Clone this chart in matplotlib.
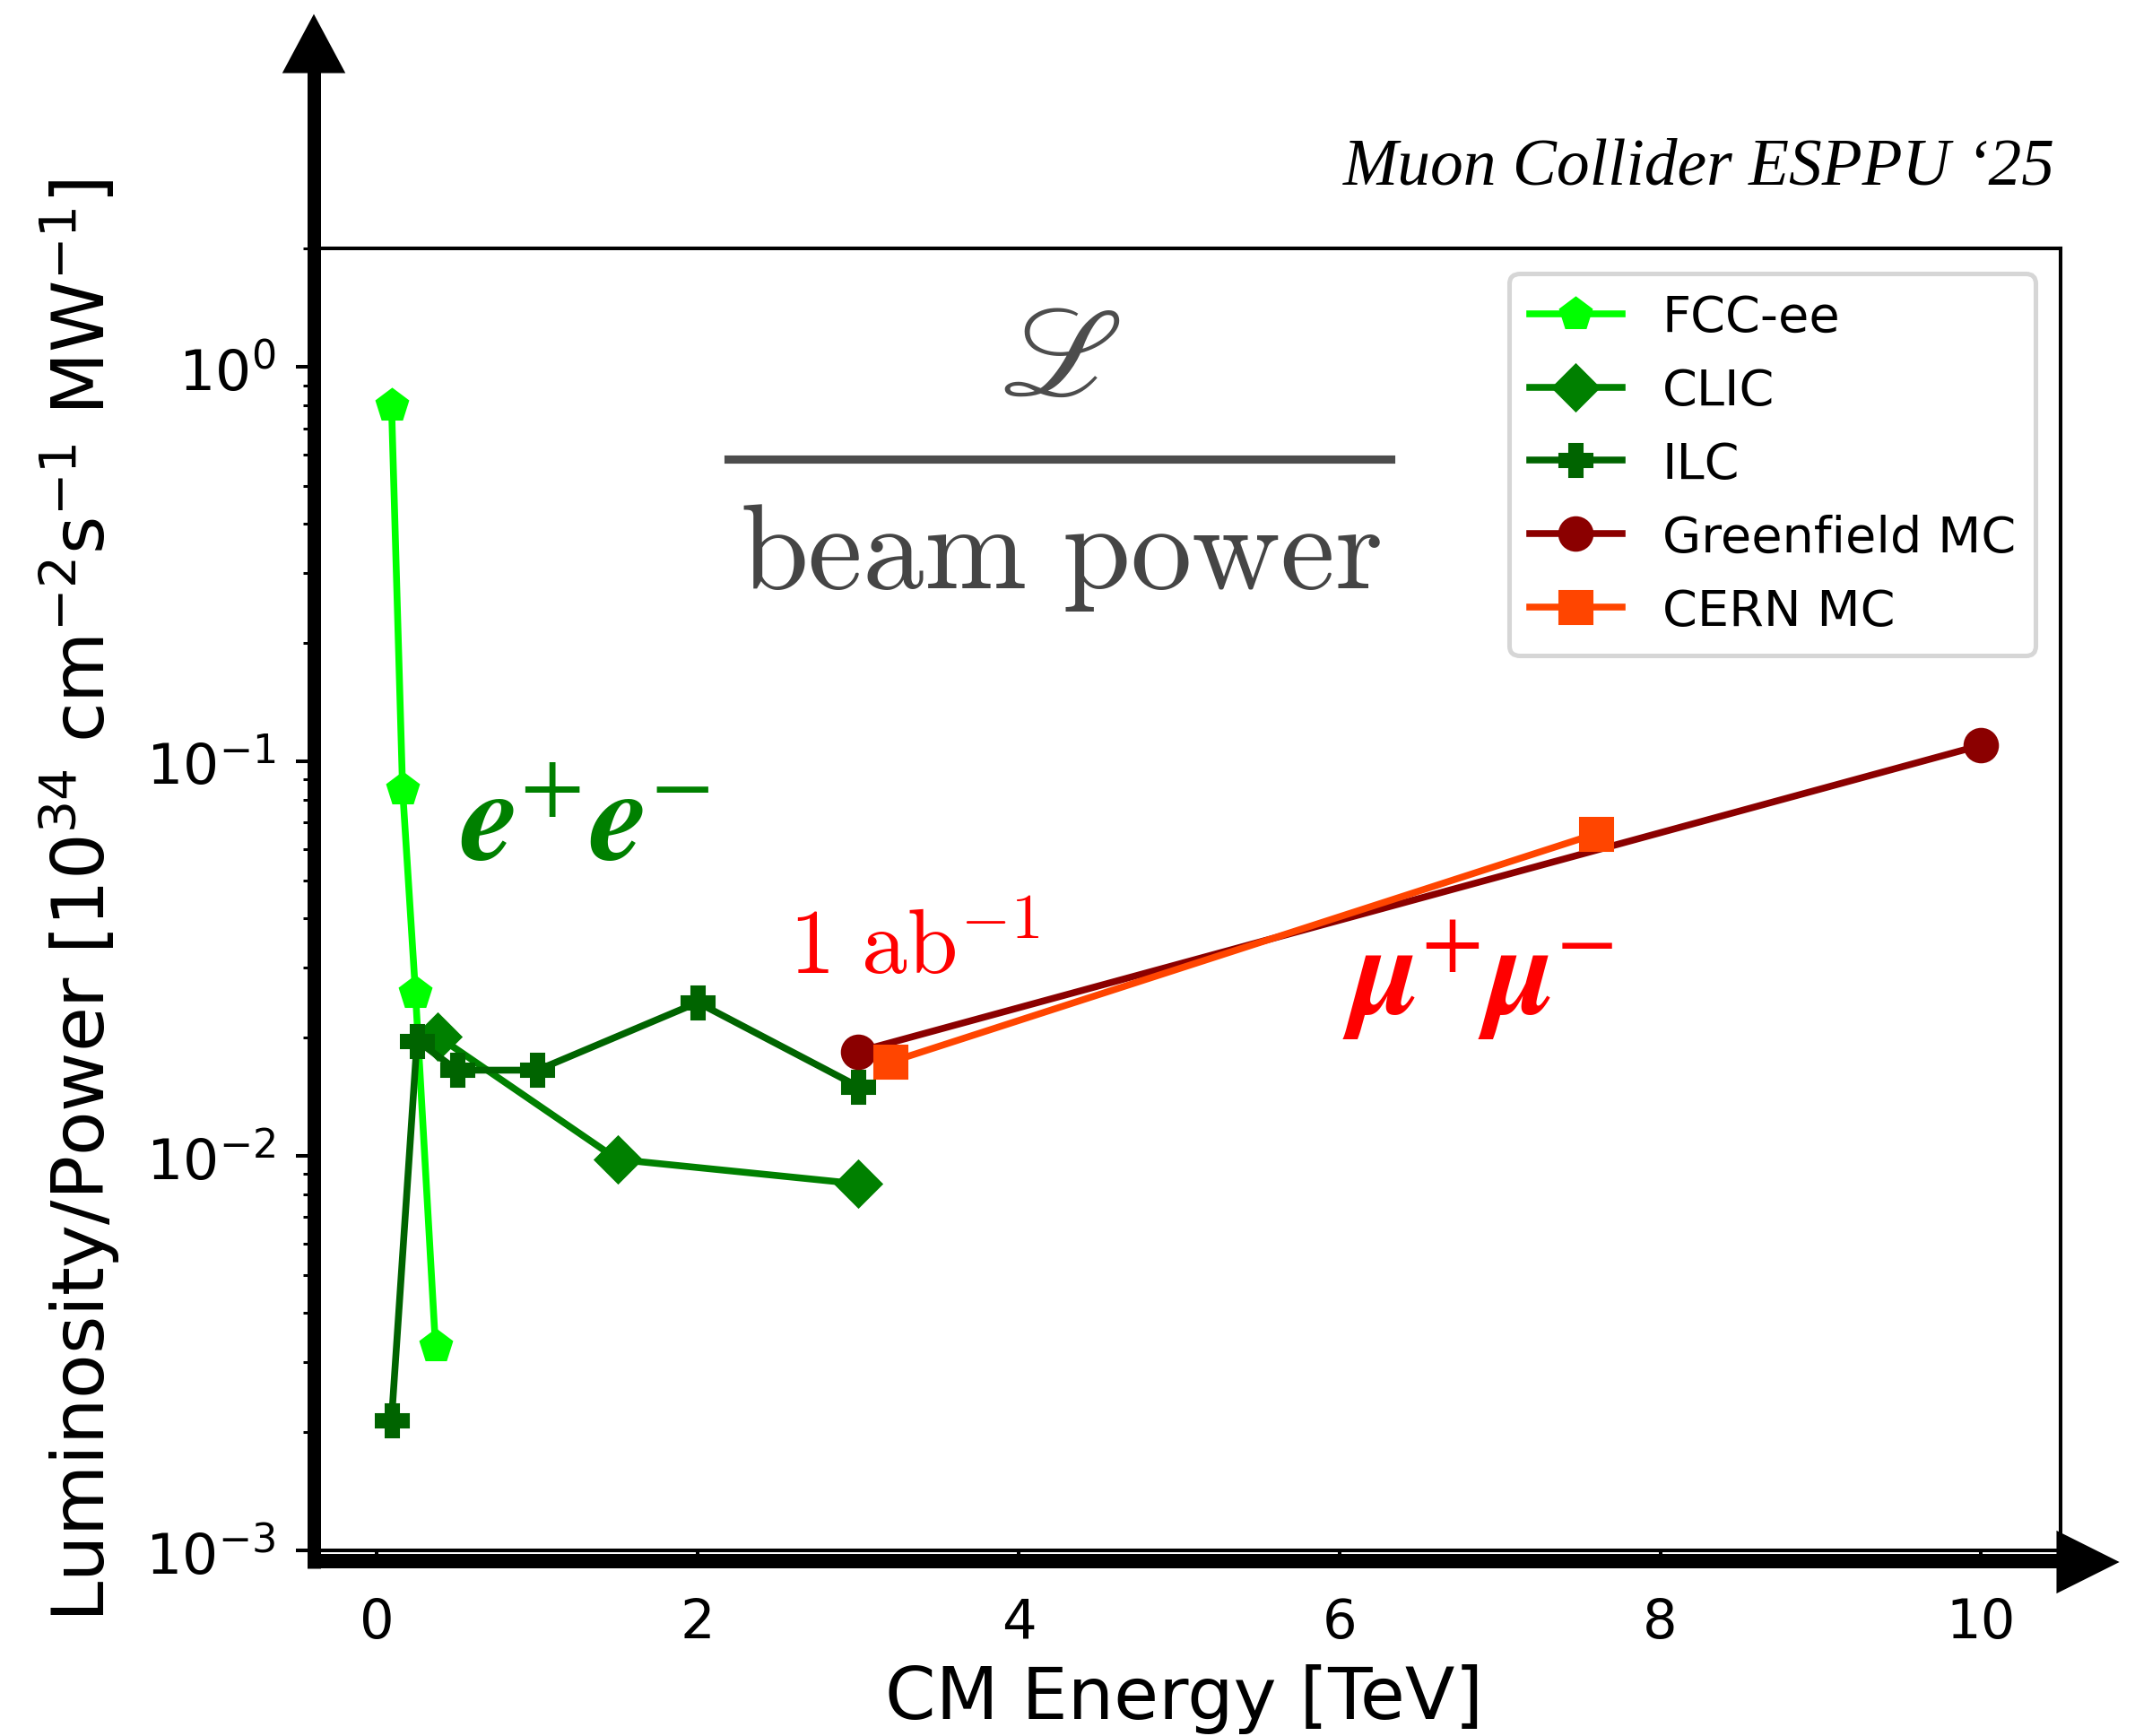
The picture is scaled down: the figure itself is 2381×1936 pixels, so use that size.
import matplotlib
matplotlib.use("Agg")
import matplotlib.pyplot as plt
from matplotlib.lines import Line2D
from matplotlib.patches import Polygon

W, H = 2381, 1937
DPI = 365

# --- data (CM energy in TeV, L/P in 1e34 cm^-2 s^-1 MW^-1)
fcc_x = [0.091, 0.16, 0.24, 0.365]
fcc_y = [0.80, 0.085, 0.026, 0.0033]

clic_x = [0.38, 1.5, 3.0]
clic_y = [0.0201, 0.0098, 0.0085]

ilc_x = [0.091, 0.25, 0.5, 1.0, 2.0, 3.0]
ilc_y = [0.00214, 0.0196, 0.0165, 0.0165, 0.0245, 0.015]

gf_x = [3.0, 10.0]
gf_y = [0.0184, 0.11]

cern_x = [3.2, 7.6]
cern_y = [0.0173, 0.0656]

x_ticks = [0, 2, 4, 6, 8, 10]


def fx(px):
    return px / W


def fy(py):
    return 1 - py / H


fig = plt.figure(figsize=(W / DPI, H / DPI), dpi=DPI)
ax = fig.add_axes([fx(348), fy(1730), (2298 - 348) / W, (1730 - 278) / H])

ms = 6.8
ax.plot(fcc_x, fcc_y, marker="p", ms=ms, color="lime", label="FCC-ee")
ax.plot(clic_x, clic_y, marker="D", ms=ms, color="green", label="CLIC")
ax.plot(ilc_x, ilc_y, marker="P", ms=ms, color="darkgreen", label="ILC")
ax.plot(gf_x, gf_y, marker="o", ms=ms, color="darkred", label="Greenfield MC")
ax.plot(cern_x, cern_y, marker="s", ms=ms, color="orangered", label="CERN MC")

ax.set_yscale("log")
ax.set_ylim(1e-3, 2)
ax.set_xticks(x_ticks)
ax.tick_params(axis="x", pad=6.5, labelsize=12)
ax.tick_params(axis="y", which="major", pad=4.5, labelsize=12.5)

ax.set_xlabel("CM Energy [TeV]", fontsize=16)
ax.set_ylabel(r"Luminosity/Power [$10^{34}$ cm$^{-2}$s$^{-1}$ MW$^{-1}$]", fontsize=16)
ax.xaxis.set_label_coords(0.4985, -0.087)
ax.yaxis.set_label_coords(-0.108, 0.5)

ax.legend(loc="upper right", fontsize=11, handlelength=1.85)

# fraction  L / beam power
ax.text(0.428, 0.915, r"$\mathscr{L}$", transform=ax.transAxes, fontsize=28,
        color="#4d4d4d", ha="center", va="center", math_fontfamily="stix")
ax.add_line(Line2D([0.238, 0.617], [0.838, 0.838], transform=ax.transAxes,
                   color="#4d4d4d", lw=1.8))
ax.text(0.428, 0.740, r"$\mathrm{beam\ power}$", transform=ax.transAxes,
        fontsize=27, color="#454545", ha="center", va="baseline",
        math_fontfamily="cm")

ax.text(0.0846, 0.530, r"$\mathbfit{e}^{+}\mathbfit{e}^{-}$", transform=ax.transAxes,
        fontsize=29, color="green", ha="left", va="baseline", math_fontfamily="stix")
ax.text(0.273, 0.4435, r"$1\ \mathrm{ab}^{-1}$", transform=ax.transAxes,
        fontsize=20, color="red", ha="left", va="baseline", math_fontfamily="cm")
ax.text(0.589, 0.4125, r"$\mathbfit{\mu}^{+}\mathbfit{\mu}^{-}$", transform=ax.transAxes,
        fontsize=28, color="red", ha="left", va="baseline", math_fontfamily="stix")

fig.text(fx(2292), fy(188), "Muon Collider ESPPU \u201825", ha="right", va="center",
         fontsize=14.5, family="Liberation Serif", style="italic")

# thick hand-drawn style axis arrows
arrow_kw = dict(color="black", solid_capstyle="butt", zorder=10, clip_on=False)
fig.add_artist(Line2D([fx(350), fx(350)], [fy(1750), fy(78)], lw=15 * 72 / DPI, **arrow_kw))
fig.add_artist(Polygon([(fx(319), fy(80)), (fx(381), fy(80)), (fx(350), fy(22))],
                       closed=True, color="black", zorder=10))
fig.add_artist(Line2D([fx(343), fx(2298)], [fy(1742), fy(1742)], lw=16 * 72 / DPI, **arrow_kw))
fig.add_artist(Polygon([(fx(2296), fy(1712)), (fx(2296), fy(1774)), (fx(2358), fy(1743))],
                       closed=True, color="black", zorder=10))

fig.savefig("out.png", dpi=DPI)
